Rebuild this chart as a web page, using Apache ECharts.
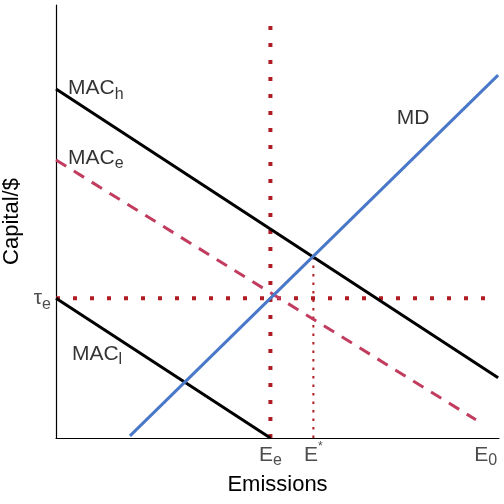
<!DOCTYPE html>
<html>
<head>
<meta charset="utf-8">
<script src="https://cdn.jsdelivr.net/npm/echarts@6/dist/echarts.min.js"></script>
<style>
html, body { margin: 0; padding: 0; background: #fff; }
#chart { width: 504px; height: 504px; }
</style>
</head>
<body>
<div id="chart"></div>
<script>
// emissions on x, capital/$ on y, both in arbitrary units 0-10
const macH = [[0, 8.06], [9.98, 1.39]];
const macE = [[0, 6.42], [9.48, 0.42]];
const macL = [[0, 3.23], [4.84, 0]];
const md = [[1.67, 0.05], [9.98, 8.38]];
const tauLine = [[0, 3.23], [9.7, 3.23]];
const eELine = [[4.84, 0], [4.84, 9.54]];
const eStarLine = [[5.81, 0], [5.81, 4.18]];

const xTicks = [4.84, 5.81, 9.7];
const xTickLabels = ['{m|E}{sub|e}', '{m|E}{sup|*}', '{m|E}{sub|0}'];
const yTicks = [3.23];
const yTickLabels = ['{m|τ}{sub|e}'];

const curveNames = [
    [0.27, 8.08, '{m|MAC}{sub|h}'],
    [0.27, 6.47, '{m|MAC}{sub|e}'],
    [0.36, 1.94, '{m|MAC}{sub|l}'],
    [7.69, 7.39, '{m|MD}']
];

const font = 'Liberation Sans, Arial, sans-serif';
function richSet(color) {
    return {
        m: { fontSize: 21, lineHeight: 28, color: color, fontFamily: font },
        sub: { fontSize: 16, lineHeight: 16, verticalAlign: 'bottom', color: color, fontFamily: font },
        sup: { fontSize: 12, lineHeight: 12, verticalAlign: 'top', color: color, fontFamily: font }
    };
}

const darkRed = '#b01c23';

var myChart = echarts.init(document.getElementById('chart'));
const option = {
    animation: false,
    grid: { left: 56, right: 5, top: 5, bottom: 66, outerBoundsMode: 'none' },
    xAxis: {
        type: 'value', min: 0, max: 10,
        name: 'Emissions', nameLocation: 'middle', nameGap: 34,
        nameTextStyle: { fontSize: 22, color: '#000', fontFamily: font },
        axisLine: { lineStyle: { color: '#000', width: 1.2 } },
        axisTick: { show: false },
        splitLine: { show: false },
        axisLabel: {
            customValues: xTicks, margin: 3,
            formatter: v => xTickLabels[xTicks.indexOf(v)],
            rich: richSet('#4d4d4d')
        }
    },
    yAxis: {
        type: 'value', min: 0, max: 10,
        name: 'Capital/$', nameLocation: 'middle', nameGap: 26,
        nameTextStyle: { fontSize: 22, color: '#000', fontFamily: font },
        axisLine: { show: true, lineStyle: { color: '#000', width: 1.2 } },
        axisTick: { show: false },
        splitLine: { show: false },
        axisLabel: {
            customValues: yTicks, margin: 5,
            formatter: v => yTickLabels[yTicks.indexOf(v)],
            rich: richSet('#4d4d4d')
        }
    },
    series: [
        { type: 'line', data: eELine, showSymbol: false, clip: false,
          lineStyle: { color: darkRed, width: 4, type: [4, 13], cap: 'butt' } },
        { type: 'line', data: tauLine, showSymbol: false, clip: false,
          lineStyle: { color: darkRed, width: 4, type: [4, 13], cap: 'butt' } },
        { type: 'line', data: eStarLine, showSymbol: false, clip: false,
          lineStyle: { color: darkRed, width: 2, type: [2.5, 6], cap: 'butt' } },
        { type: 'line', data: macE, showSymbol: false, clip: false,
          lineStyle: { color: '#c13c5e', width: 3, type: [12, 9], cap: 'butt' } },
        { type: 'line', data: macH, showSymbol: false, clip: false,
          lineStyle: { color: '#000', width: 3 } },
        { type: 'line', data: macL, showSymbol: false, clip: false,
          lineStyle: { color: '#000', width: 3 } },
        { type: 'line', data: md, showSymbol: false, clip: false,
          lineStyle: { color: '#4a78c8', width: 3 } },
        { type: 'scatter', data: curveNames, symbolSize: 0, silent: true,
          label: {
              show: true, position: 'right', distance: 0, color: '#000',
              formatter: p => p.data[2],
              rich: richSet('#000')
          } }
    ]
};
myChart.setOption(option);
</script>
</body>
</html>
